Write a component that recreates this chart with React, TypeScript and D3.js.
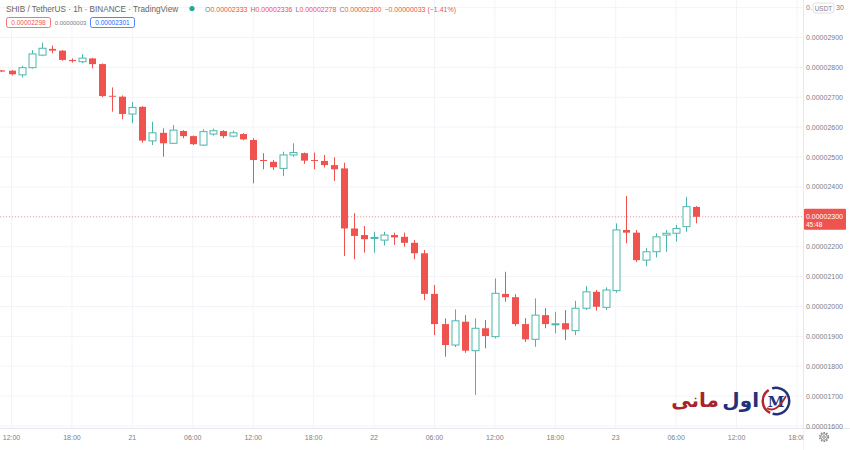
import React from 'react';
import * as d3 from 'd3';

const W = 850;
const H = 450;
const AXIS_X = 803;
const AXIS_Y = 428;

// hourly candles, SHIB/USDT 1h, prices in 1e-8 USDT
const firstCandle = Date.UTC(2022, 0, 20, 11);
const candleOpen = [
  2790, 2789, 2775, 2799, 2841, 2862, 2856, 2825, 2819, 2830,
  2811, 2705, 2702, 2644, 2668, 2554, 2581, 2546, 2587, 2570,
  2540, 2577, 2587, 2570, 2577, 2557, 2490, 2484, 2462, 2507,
  2513, 2490, 2487, 2473, 2462, 2261, 2239, 2228, 2222, 2239,
  2233, 2213, 2178, 2042, 1941, 1871, 1949, 1852, 1927, 1899,
  2042, 2031, 1941, 1890, 1971, 1939, 1944, 1919, 1994, 2049,
  1997, 2053, 2256, 2247, 2155, 2183, 2239, 2245, 2267, 2333,
];
const candleHigh = [
  2791, 2791, 2805, 2858, 2883, 2873, 2858, 2830, 2844, 2832,
  2813, 2733, 2706, 2684, 2670, 2618, 2596, 2607, 2590, 2572,
  2593, 2595, 2590, 2588, 2580, 2563, 2513, 2490, 2518, 2546,
  2515, 2515, 2507, 2499, 2481, 2312, 2269, 2250, 2250, 2247,
  2247, 2222, 2189, 2072, 1960, 1990, 1971, 1960, 1955, 2094,
  2116, 2041, 1961, 2027, 1994, 1982, 1988, 2019, 2068, 2055,
  2064, 2278, 2370, 2256, 2195, 2245, 2256, 2273, 2367, 2336,
];
const candleLow = [
  2784, 2773, 2766, 2796, 2838, 2847, 2822, 2816, 2814, 2797,
  2700, 2652, 2626, 2613, 2548, 2540, 2501, 2544, 2563, 2540,
  2537, 2572, 2563, 2566, 2556, 2412, 2459, 2457, 2436, 2501,
  2477, 2459, 2465, 2420, 2169, 2158, 2180, 2180, 2204, 2206,
  2200, 2158, 2021, 1904, 1832, 1864, 1845, 1704, 1860, 1893,
  2016, 1934, 1881, 1865, 1927, 1910, 1888, 1904, 1988, 1986,
  1988, 2046, 2211, 2149, 2135, 2164, 2183, 2217, 2250, 2278,
];
const candleClose = [
  2786, 2777, 2799, 2845, 2864, 2856, 2825, 2821, 2831, 2811,
  2704, 2702, 2644, 2666, 2555, 2581, 2546, 2590, 2570, 2543,
  2585, 2588, 2570, 2581, 2559, 2490, 2487, 2466, 2507, 2515,
  2488, 2487, 2473, 2459, 2261, 2236, 2225, 2231, 2239, 2231,
  2213, 2178, 2042, 1941, 1871, 1952, 1852, 1927, 1901, 2044,
  2031, 1941, 1890, 1971, 1941, 1942, 1923, 1994, 2049, 1999,
  2055, 2256, 2247, 2155, 2183, 2233, 2245, 2261, 2334, 2300,
];

const priceTicks = [1600, 1700, 1800, 1900, 2000, 2100, 2200, 2300, 2400, 2500, 2600, 2700, 2800, 2900, 3000];
const lastPrice = 2300;
const headerValues = ['0.00002333', '0.00002336', '0.00002278', '0.00002300'];
const headerChange = '−0.00000033 (−1.41%)';

const RED = '#ef5350';
const GREEN = '#4db6ac';
const GRID = '#f2f4f8';
const TEXT = '#7b7e88';
const FONT = '"Liberation Sans", Arial, sans-serif';

const fmtPrice = (v: number) => (v * 1e-8).toFixed(8);

export default function App() {
  const x = d3
    .scaleUtc()
    .domain([new Date(Date.UTC(2022, 0, 20, 12)), new Date(Date.UTC(2022, 0, 23, 18))])
    .range([11.5, 797]);
  const y = d3.scaleLinear().domain([1600, 2900]).range([426, 37.5]);

  const candles = candleOpen.map((o, i) => ({
    t: new Date(firstCandle + i * 3600e3),
    o,
    h: candleHigh[i],
    l: candleLow[i],
    c: candleClose[i],
  }));

  const timeTicks = x.ticks(d3.utcHour.every(6)!);
  const fmtTime = (d: Date) =>
    d.getUTCHours() === 0 ? String(d.getUTCDate()) : d3.utcFormat('%H:%M')(d);

  const bw = 7;

  return (
    <div style={{ position: 'absolute', left: 0, top: 0 }}>
      <svg width={W} height={H} style={{ display: 'block', background: '#fff', fontFamily: FONT }}>
        {/* grid */}
        {timeTicks.map((t, i) => (
          <line key={'vg' + i} x1={x(t)} x2={x(t)} y1={0} y2={AXIS_Y} stroke={GRID} />
        ))}
        {priceTicks.map((p) => (
          <line key={'hg' + p} x1={0} x2={AXIS_X} y1={y(p)} y2={y(p)} stroke={GRID} />
        ))}

        {/* axes borders */}
        <line x1={AXIS_X + 0.5} x2={AXIS_X + 0.5} y1={0} y2={H} stroke="#e6e8ee" />
        <line x1={0} x2={W} y1={AXIS_Y + 0.5} y2={AXIS_Y + 0.5} stroke="#e6e8ee" />

        {/* watermark logo */}
        <g>
          <text x={719} y={407} textAnchor="end" fontFamily='"DejaVu Sans"' fontWeight="bold" fontSize={20} fill="#a8232a">
            مانی
          </text>
          <text x={759} y={407} textAnchor="end" fontFamily='"DejaVu Sans"' fontWeight="bold" fontSize={20} fill="#23307a">
            اول
          </text>
          <path d={d3.arc()({ innerRadius: 12, outerRadius: 14.5, startAngle: -0.3, endAngle: 3.4 }) || ''} transform="translate(776,401)" fill="#23307a" />
          <path d={d3.arc()({ innerRadius: 12, outerRadius: 14.5, startAngle: 3.6, endAngle: 5.7 }) || ''} transform="translate(776,401)" fill="#b5272d" />
          <text x={776} y={407} textAnchor="middle" fontFamily='"DejaVu Serif"' fontWeight="bold" fontSize={15} fill="#23307a">
            M
          </text>
          <path d="M767,408 Q776,414 786,396" fill="none" stroke="#b5272d" strokeWidth={1.8} />
        </g>

        {/* last price line */}
        <line x1={0} x2={AXIS_X} y1={y(lastPrice)} y2={y(lastPrice)} stroke={RED} strokeOpacity={0.55} strokeDasharray="1,2" />

        {/* candles */}
        {candles.map((d, i) => {
          const cx = Math.round(x(d.t)) + 0.5;
          const up = d.c >= d.o;
          const top = y(Math.max(d.o, d.c));
          const bot = y(Math.min(d.o, d.c));
          const bh = Math.max(1, bot - top);
          if (up) {
            return (
              <g key={i} stroke={GREEN} strokeWidth={1}>
                <line x1={cx} x2={cx} y1={y(d.h)} y2={top} />
                <line x1={cx} x2={cx} y1={top + bh} y2={y(d.l)} />
                <rect x={cx - bw / 2} y={top} width={bw} height={bh} fill="#fff" />
              </g>
            );
          }
          return (
            <g key={i}>
              <line x1={cx} x2={cx} y1={y(d.h)} y2={y(d.l)} stroke={RED} strokeWidth={1} />
              <rect x={cx - bw / 2} y={top} width={bw} height={bh} fill={RED} />
            </g>
          );
        })}

        {/* price axis */}
        {priceTicks.map((p) =>
          p === lastPrice || p === 3000 ? null : (
            <text key={'pt' + p} x={806} y={y(p) + 2.5} fontSize={7} fill={TEXT}>
              {fmtPrice(p)}
            </text>
          )
        )}
        {/* top label is partly hidden by the currency badge */}
        <text x={806} y={y(3000) + 2.5} fontSize={7} fill={TEXT}>0.</text>
        <text x={836} y={y(3000) + 2.5} fontSize={7} fill={TEXT}>30</text>
        <rect x={813} y={3} width={21} height={10} rx={2.5} fill="#fff" stroke="#d6d8de" strokeWidth={0.8} />
        <text x={823.5} y={10.5} fontSize={6.5} fill={TEXT} textAnchor="middle">
          USDT
        </text>
        <rect x={AXIS_X + 1} y={y(lastPrice) - 8} width={42} height={21} rx={1} fill={RED} />
        <text x={806} y={y(lastPrice) + 2.5} fontSize={7} fill="#fff">
          {fmtPrice(lastPrice)}
        </text>
        <text x={806} y={y(lastPrice) + 10.5} fontSize={6.5} fill="#fff">
          45:48
        </text>

        {/* time axis */}
        {timeTicks.map((t, i) => (
          <text key={'tt' + i} x={x(t)} y={440} fontSize={7} fill={TEXT} textAnchor="middle">
            {fmtTime(t)}
          </text>
        ))}
        <rect x={AXIS_X + 0.5} y={AXIS_Y + 1} width={W - AXIS_X} height={H - AXIS_Y} fill="#fff" />
        <g transform="translate(824,437)" fill="none" stroke="#888" strokeWidth={1}>
          <circle r={3.3} />
          <circle r={4.4} strokeDasharray="1.6,1.2" strokeWidth={1.4} />
          <circle r={1.3} />
        </g>

        {/* header */}
        <text x={6} y={12} fontSize={8.2} fill="#666">
          SHIB / TetherUS · 1h · BINANCE · TradingView
        </text>
        <circle cx={192} cy={8.5} r={2.6} fill="#26a69a" />
        <text x={205} y={12} fontSize={7} fill={RED}>
          <tspan fill={TEXT}>O</tspan>
          {headerValues[0]}
          <tspan fill={TEXT} dx={3}>H</tspan>
          {headerValues[1]}
          <tspan fill={TEXT} dx={3}>L</tspan>
          {headerValues[2]}
          <tspan fill={TEXT} dx={3}>C</tspan>
          {headerValues[3]}
          <tspan dx={3}>{headerChange}</tspan>
        </text>
        <rect x={6.5} y={17.5} width={44} height={10} rx={2} fill="#fff" stroke={RED} strokeWidth={0.8} />
        <text x={28.5} y={25} fontSize={6.5} fill={RED} textAnchor="middle">
          0.00002298
        </text>
        <text x={70.5} y={25} fontSize={6} fill={TEXT} textAnchor="middle">
          0.00000003
        </text>
        <rect x={90.5} y={17.5} width={44} height={10} rx={2} fill="#fff" stroke="#2962ff" strokeWidth={0.8} />
        <text x={112.5} y={25} fontSize={6.5} fill="#2962ff" textAnchor="middle">
          0.00002301
        </text>
      </svg>
    </div>
  );
}
